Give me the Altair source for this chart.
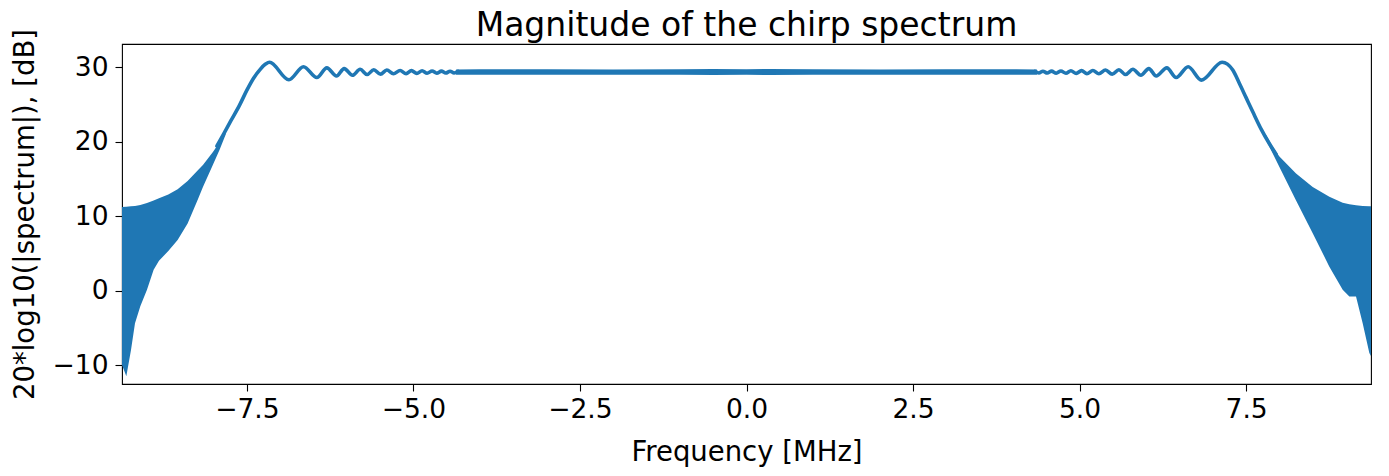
import altair as alt
import pandas as pd

BLUE = "#1f77b4"
FONT = "DejaVu Sans"

# ---- Data ----
# Left skirt (rapidly oscillating region drawn as a filled band): frequency [MHz], lower / upper envelope [dB]
skl_f = [-9.375, -9.31, -9.24, -9.18, -9.10, -9.00, -8.90, -8.82, -8.68, -8.54, -8.39, -8.24, -8.16, -8.01, -7.91, -7.82]
skl_lo = [-10.0, -11.5, -8.0, -4.4, -2.1, 0.1, 2.8, 4.0, 5.3, 6.8, 9.0, 12.15, 13.9, 16.9, 18.9, 20.9]
skl_hi = [11.2, 11.25, 11.3, 11.35, 11.5, 11.75, 12.1, 12.4, 12.9, 13.6, 14.7, 16.1, 16.85, 18.6, 19.9, 21.5]

# Right skirt
skr_f = [7.80, 7.90, 8.00, 8.25, 8.50, 8.75, 8.95, 9.05, 9.15, 9.25, 9.35, 9.375]
skr_lo = [20.2, 18.4, 16.6, 12.1, 7.7, 3.2, 0.1, -0.8, -0.8, -4.4, -8.4, -8.8]
skr_hi = [20.9, 19.3, 18.0, 15.7, 13.9, 12.6, 11.8, 11.6, 11.45, 11.35, 11.3, 11.3]

# Central pass band (very fine ripple, drawn as a thin band)
cen_f = [-4.36, -4.0, -3.0, -2.0, -1.0, -0.5, 0.0, 0.35, 1.0, 2.0, 3.0, 4.0, 4.36]
cen_lo = [28.98, 28.97, 28.97, 28.98, 28.97, 28.93, 28.96, 28.93, 28.97, 28.98, 28.97, 28.97, 28.98]
cen_hi = [29.68, 29.7, 29.7, 29.69, 29.7, 29.74, 29.7, 29.74, 29.7, 29.69, 29.7, 29.7, 29.68]

# Left edge of pass band: rise and Fresnel ripple (peaks / troughs)
rl_f = [-7.95, -7.85, -7.74, -7.61, -7.50, -7.40, -7.30, -7.22, -7.16, -6.87, -6.65, -6.45, -6.30, -6.155,
        -6.04, -5.915, -5.80, -5.695, -5.595, -5.495, -5.40, -5.30, -5.20, -5.11,
        -5.03, -4.95, -4.87, -4.795, -4.72, -4.65, -4.58, -4.515, -4.45, -4.39, -4.33]
rl_db = [19.4, 21.0, 22.8, 24.9, 26.9, 28.5, 29.7, 30.4, 30.65, 28.3, 30.05, 28.6, 29.9, 28.8,
         29.8, 28.9, 29.7, 29.0, 29.65, 29.05, 29.6, 29.1, 29.55, 29.12,
         29.52, 29.15, 29.5, 29.17, 29.48, 29.18, 29.46, 29.2, 29.45, 29.21, 29.43]

# Right edge of pass band
rr_f = [4.33, 4.39, 4.45, 4.515, 4.58, 4.65, 4.72, 4.795, 4.87, 4.95, 5.03,
        5.11, 5.20, 5.29, 5.39, 5.49, 5.59, 5.69, 5.80, 5.92, 6.04, 6.15, 6.31, 6.45, 6.63, 6.83,
        7.14, 7.22, 7.30, 7.40, 7.50, 7.60, 7.73, 7.85, 7.95]
rr_db = [29.43, 29.21, 29.45, 29.2, 29.46, 29.18, 29.48, 29.17, 29.5, 29.15, 29.52,
         29.12, 29.55, 29.1, 29.6, 29.05, 29.65, 29.0, 29.7, 28.9, 29.8, 28.8, 29.9, 28.6, 30.05, 28.25,
         30.65, 30.4, 29.6, 27.8, 25.9, 24.0, 21.6, 19.7, 18.3]

x_ticks = [-7.5, -5.0, -2.5, 0.0, 2.5, 5.0, 7.5]
y_ticks = [-10, 0, 10, 20, 30]
x_dom = [-9.375, 9.375]
y_dom = [-12.55, 33.1]
title_text = "Magnitude of the chirp spectrum"

W, H = 1249, 340

# ---- tables ----
band = pd.concat([
    pd.DataFrame({"f": skl_f, "lo": skl_lo, "hi": skl_hi, "seg": "SL"}),
    pd.DataFrame({"f": cen_f, "lo": cen_lo, "hi": cen_hi, "seg": "C"}),
    pd.DataFrame({"f": skr_f, "lo": skr_lo, "hi": skr_hi, "seg": "SR"}),
], ignore_index=True)

ripple = pd.concat([
    pd.DataFrame({"f": rl_f, "db": rl_db, "seg": "L"}),
    pd.DataFrame({"f": rr_f, "db": rr_db, "seg": "R"}),
], ignore_index=True)

xs = alt.Scale(domain=x_dom, nice=False, zero=False)
ys = alt.Scale(domain=y_dom, nice=False, zero=False)

x_axis = alt.Axis(values=x_ticks, format=".1f", title="Frequency [MHz]",
                  titleY=76, titleBaseline="alphabetic",
                  labelBaseline="alphabetic", labelPadding=26)
y_axis = alt.Axis(values=y_ticks, format="d", title="20*log10(|spectrum|), [dB]",
                  titleX=-89, titleY=H / 2, titleBaseline="alphabetic", titleAlign="center",
                  labelPadding=7)

area = alt.Chart(band).mark_area(color=BLUE, opacity=1, clip=True).encode(
    x=alt.X("f:Q", scale=xs, axis=x_axis),
    y=alt.Y("lo:Q", scale=ys, axis=y_axis),
    y2="hi:Q",
    detail="seg:N",
)

line = alt.Chart(ripple).mark_line(color=BLUE, strokeWidth=3.6, interpolate="monotone",
                                   strokeCap="round", clip=True).encode(
    x=alt.X("f:Q", scale=xs),
    y=alt.Y("db:Q", scale=ys),
    detail="seg:N",
)

chart = alt.layer(area, line).properties(
    width=W,
    height=H,
    autosize=alt.AutoSizeParams(type="none"),
    padding={"left": 114, "top": 36, "right": 10, "bottom": 84},
    title=alt.Title(title_text, fontSize=33, font=FONT, fontWeight="normal", color="black",
                    anchor="middle", frame="group", orient="top", baseline="alphabetic",
                    offset=-41),
).configure_view(
    stroke="black", strokeWidth=1.1,
).configure_axis(
    domain=False, grid=False,
    tickSize=7, tickWidth=1.1, tickColor="black",
    labelFont=FONT, labelFontSize=26.5, labelColor="black",
    titleFont=FONT, titleFontSize=27.5, titleFontWeight="normal", titleColor="black",
)

chart.save("out.html", embed_options={"renderer": "svg", "actions": False})
